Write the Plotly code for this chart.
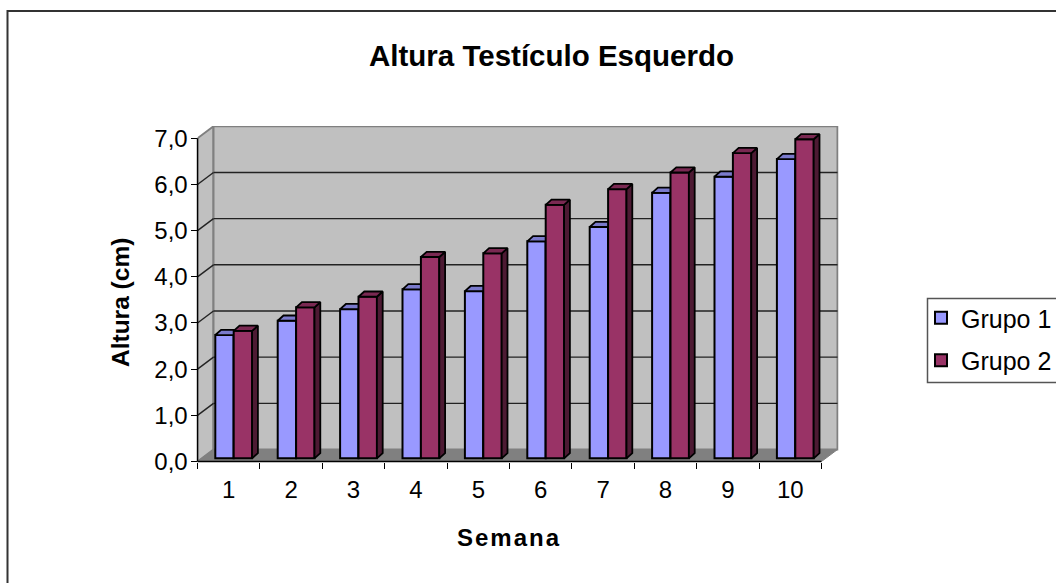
import plotly.graph_objects as go

categories = [1, 2, 3, 4, 5, 6, 7, 8, 9, 10]
grupo_1 = [2.67, 2.98, 3.23, 3.66, 3.62, 4.70, 5.01, 5.75, 6.10, 6.48]
grupo_2 = [2.76, 3.27, 3.50, 4.36, 4.44, 5.49, 5.83, 6.19, 6.61, 6.91]
y_ticks = [0, 1, 2, 3, 4, 5, 6, 7]

W, H = 1056, 583
L, R, T, B = 197.5, 838.5, 126.0, 461.5
PX_CAT, PX_VAL = 62.4, 46.17
X0 = 0.5
X_RANGE = [X0, X0 + (R - L) / PX_CAT]
Y_RANGE = [0, (B - T) / PX_VAL]
WALL_DX, WALL_DY = 16 / PX_CAT, 12 / PX_VAL
BAR_W = 18.4 / PX_CAT
BAR_BASE = 3.2 / PX_VAL
BAR_DX, BAR_DY = 5.8 / PX_CAT, 5.2 / PX_VAL
OFF1, OFF2 = -4.2 / PX_CAT, 14.2 / PX_CAT


def px(x):
    return x / W


def py(y):
    return 1 - y / H


def faces(xs, vals):
    top_x, top_y, side_x, side_y = [], [], [], []
    for c, v in zip(xs, vals):
        l, r = c - BAR_W / 2, c + BAR_W / 2
        t, b = v + BAR_BASE, BAR_BASE
        top_x += [l, r, r + BAR_DX, l + BAR_DX, l, None]
        top_y += [t, t, t + BAR_DY, t + BAR_DY, t, None]
        side_x += [r, r + BAR_DX, r + BAR_DX, r, r, None]
        side_y += [b, b + BAR_DY, t + BAR_DY, t, b, None]
    return top_x, top_y, side_x, side_y


def add_series(fig, name, vals, off, color, top_color, side_color, xa, ya):
    xs = [c + off for c in categories]
    fig.add_trace(go.Bar(x=xs, y=vals, base=BAR_BASE, width=BAR_W, name=name, legendgroup=name,
                         marker=dict(color=color, line=dict(color="#000000", width=2)),
                         xaxis=xa, yaxis=ya, hoverinfo="skip"))
    tx, ty, sx, sy = faces(xs, vals)
    for fx, fy, col in ((sx, sy, side_color), (tx, ty, top_color)):
        fig.add_trace(go.Scatter(x=fx, y=fy, mode="lines", fill="toself", fillcolor=col,
                                 line=dict(color="#000000", width=1.8), showlegend=False,
                                 legendgroup=name, xaxis=xa, yaxis=ya, hoverinfo="skip"))


fig = go.Figure()
add_series(fig, "Grupo 1", grupo_1, OFF1, "#9999ff", "#7a7acc", "#4d4d80", "x", "y")
add_series(fig, "Grupo 2", grupo_2, OFF2, "#993366", "#7a2952", "#4d1a33", "x2", "y2")

shapes = []
XE = X0 + 10
YT = y_ticks[-1]
# outer frame of the chart
shapes.append(dict(type="rect", xref="paper", yref="paper", x0=px(7.5), x1=px(W + 20), y0=py(H + 20), y1=py(11),
                   line=dict(color="#333333", width=2), layer="below"))
# legend frame
shapes.append(dict(type="rect", xref="paper", yref="paper", x0=px(927.5), x1=px(W + 20), y0=py(382.5), y1=py(298.5),
                   line=dict(color="#555555", width=1.5), layer="below"))
# side wall, back wall, floor
shapes.append(dict(type="path", xref="x", yref="y", layer="below", fillcolor="#c0c0c0",
                   path=f"M{X0},0 L{X0 + WALL_DX},{WALL_DY} L{X0 + WALL_DX},{YT + WALL_DY} L{X0},{YT} Z",
                   line=dict(color="#808080", width=2)))
shapes.append(dict(type="rect", xref="x", yref="y", layer="below", fillcolor="#c0c0c0",
                   x0=X0 + WALL_DX, x1=XE + WALL_DX, y0=WALL_DY, y1=YT + WALL_DY,
                   line=dict(color="#808080", width=2)))
shapes.append(dict(type="path", xref="x", yref="y", layer="below", fillcolor="#808080",
                   path=f"M{X0},0 L{XE},0 L{XE + WALL_DX},{WALL_DY} L{X0 + WALL_DX},{WALL_DY} Z",
                   line=dict(color="#808080", width=1)))
# gridlines
for t in y_ticks[1:-1]:
    shapes.append(dict(type="line", xref="x", yref="y", layer="below", x0=X0, y0=t, x1=X0 + WALL_DX, y1=t + WALL_DY,
                       line=dict(color="#222222", width=1.4)))
    shapes.append(dict(type="line", xref="x", yref="y", layer="below", x0=X0 + WALL_DX, y0=t + WALL_DY,
                       x1=XE + WALL_DX, y1=t + WALL_DY, line=dict(color="#222222", width=1.4)))
# front axis lines
shapes.append(dict(type="line", xref="paper", yref="paper", x0=px(L), x1=px(L + 10 * PX_CAT), y0=py(B), y1=py(B),
                   line=dict(color="#000000", width=1.4)))
shapes.append(dict(type="line", xref="paper", yref="paper", x0=px(L), x1=px(L), y0=py(B), y1=py(B - YT * PX_VAL),
                   line=dict(color="#000000", width=1.4)))

FONT = "Liberation Sans, Arial, sans-serif"
fig.update_layout(
    width=W, height=H, autosize=False,
    margin=dict(l=0, r=0, t=0, b=0, pad=0, autoexpand=False),
    paper_bgcolor="#ffffff", plot_bgcolor="rgba(0,0,0,0)",
    barmode="overlay", separators=",.",
    font=dict(family=FONT, size=24, color="#000000"),
    title=dict(text="<b>Altura Testículo Esquerdo</b>", font=dict(size=29.5), xref="paper", yref="paper",
               x=px(551.5), xanchor="center", y=py(56), yanchor="middle"),
    shapes=shapes,
    annotations=[
        dict(text="<b>Semana</b>", xref="paper", yref="paper", x=px(509), y=py(537), xanchor="center",
             yanchor="middle", showarrow=False, font=dict(size=24)),
        dict(text="<b>Altura (cm)</b>", xref="paper", yref="paper", x=px(120.5), y=py(302.5), xanchor="center",
             yanchor="middle", showarrow=False, textangle=-90, font=dict(size=24.5)),
    ],
    xaxis=dict(domain=[px(L), px(R)], range=X_RANGE, tickmode="array", tickvals=categories,
               ticktext=[str(c) for c in categories], ticks="outside", ticklen=7, tickcolor="rgba(0,0,0,0)",
               showgrid=False, zeroline=False, showline=False, tickfont=dict(size=24), automargin=False),
    yaxis=dict(domain=[py(B), py(T)], range=Y_RANGE, tickmode="array", tickvals=y_ticks, tickformat=".1f",
               ticks="outside", ticklen=6, tickwidth=1.4, tickcolor="#000000", showgrid=False, zeroline=False,
               showline=False, tickfont=dict(size=24), ticklabelstandoff=-2, automargin=False),
    xaxis2=dict(domain=[px(L), px(R)], range=X_RANGE, overlaying="x", anchor="y2", tickmode="array",
                tickvals=[X0 + i for i in range(11)], ticks="outside", ticklen=6, tickwidth=1.4, tickcolor="#000000",
                showticklabels=False, showgrid=False, zeroline=False, showline=False),
    yaxis2=dict(domain=[py(B), py(T)], range=Y_RANGE, overlaying="y", anchor="x2", visible=False),
    legend=dict(x=px(921), xanchor="left", y=py(295), yanchor="top", bgcolor="rgba(0,0,0,0)",
                borderwidth=0, font=dict(size=25), tracegroupgap=7, itemclick=False, itemdoubleclick=False),
)

post = """
document.body.style.margin = '0';
document.body.style.overflow = 'hidden';
var s = document.createElement('style');
s.textContent = '.annotation[data-index="0"] text { letter-spacing: 2px; }';
document.head.appendChild(s);
"""
fig.write_html("out.html", post_script=post, config=dict(displayModeBar=False))
